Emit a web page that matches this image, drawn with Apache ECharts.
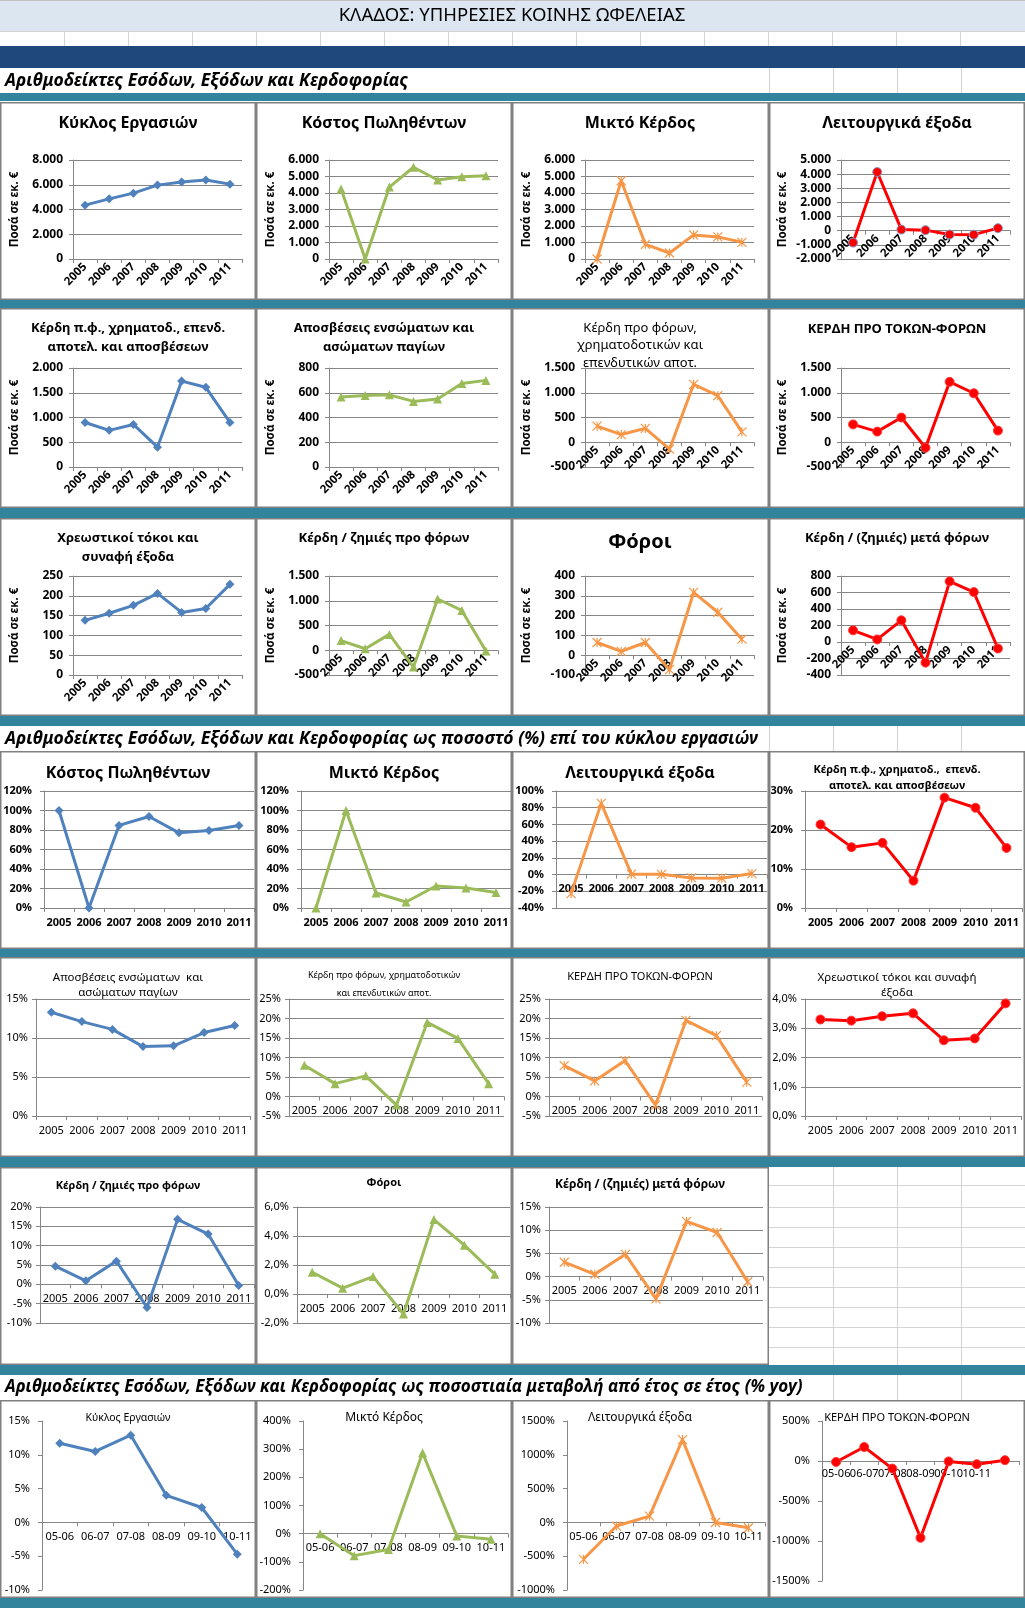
<!DOCTYPE html>
<html><head><meta charset="utf-8">
<script src="https://cdn.jsdelivr.net/npm/echarts@6/dist/echarts.min.js"></script>
<style>html,body{margin:0;padding:0;background:#fff}#c{width:1025px;height:1608px}</style>
</head><body><div id="c"></div><script>
// ---------------- DATA ----------------
const years = ['2005','2006','2007','2008','2009','2010','2011'];
const yoyCats = ['05-06','06-07','07-08','08-09','09-10','10-11'];
const yoyCatsEbit = ['05-06','06-07','07-08','08-09','09-10','10-11',''];

// Section 1: amounts (εκ. €)
const turnover = [4350,4860,5320,5970,6220,6380,6050];
const costOfSales = [4240,0,4360,5560,4790,4990,5050];
const grossProfit = [0,4740,890,365,1460,1340,1010];
const operatingExpenses = [-840,4150,80,40,-270,-280,180];
const ebitda = [900,740,860,400,1735,1610,900];
const depreciation = [565,577,583,530,550,675,700];
const ebitPreFin = [325,155,280,-140,1170,940,210];
const ebit = [360,215,500,-110,1220,990,235];
const interest = [138,156,176,206,158,168,229];
const preTax = [195,30,320,-340,1035,805,-15];
const taxes = [64,19,64,-73,317,217,81];
const afterTax = [141,31,263,-250,735,605,-79];

// Section 2: % of turnover
const pctCostOfSales = [100,0,84.7,93.9,77.1,79.5,84.7];
const pctGrossProfit = [0,100,15.4,6.2,22.6,20.6,15.8];
const pctOperatingExpenses = [-22.8,85.2,0.5,0.3,-4.0,-4.3,1.2];
const pctEbitda = [21.4,15.6,16.7,7.0,28.3,25.7,15.4];
const pctDepreciation = [13.3,12.1,11.1,8.9,9.0,10.7,11.6];
const pctEbitPreFin = [8.0,3.3,5.3,-2.2,19.0,14.9,3.3];
const pctEbit = [7.9,4.0,9.2,-2.2,19.5,15.6,3.7];
const pctInterest = [3.30,3.26,3.41,3.51,2.59,2.65,3.85];
const pctPreTax = [4.7,0.9,6.0,-6.0,16.8,13.0,-0.3];
const pctTaxes = [1.50,0.40,1.20,-1.38,5.13,3.37,1.36];
const pctAfterTax = [3.1,0.5,4.8,-4.8,11.9,9.5,-1.1];

// Section 3: % yoy
const yoyTurnover = [11.7,10.5,12.9,4.0,2.2,-4.7];
const yoyGrossProfit = [0,-78,-56,287,-8,-20];
const yoyOperatingExpenses = [-546,-54,93,1225,-2,-79];
const yoyEbit = [-12,175,-95,-960,-5,-40,10];

// ---------------- FORMATTERS ----------------
function fmtInt(v){ const a=Math.abs(Math.round(v)); const s=String(a).replace(/\B(?=(\d{3})+(?!\d))/g,'.'); return (v<0?'-':'')+s; }
function fmtPct0(v){ const r=Math.round(v); return (r===0?0:r)+'%'; }
function fmtPct1(v){ let r=Math.round(v*10)/10; if(r===0) r=0; return r.toFixed(1).replace('.',',')+'%'; }

// ---------------- STYLES ----------------
const FF = '"Noto Sans","DejaVu Sans",sans-serif';
const GC = '#868686';
const ASTER = 'path://M0,0L10,10M0,10L10,0M5,0L5,10';
const ST = {
  blue:{color:'#4F81BD', symbol:'diamond', size:9, border:'#4F81BD', bw:0},
  green:{color:'#9BBB59', symbol:'triangle', size:9, border:'#9BBB59', bw:0},
  orange:{color:'#F79646', symbol:ASTER, size:9, border:'#F79646', bw:1.2},
  red:{color:'#FF0000', symbol:'circle', size:9, border:'#FF3B3B', bw:1}
};
const KIND = {
  A:{yl:{s:12,w:'bold',m:10}, xl:{s:11.5,w:'bold',r:45,m:6}, split:true, yName:true},
  B:{yl:{s:11,w:'bold',m:12}, xl:{s:11,w:'bold',r:0,m:9}, split:true},
  C:{yl:{s:11,w:'normal',m:8}, xl:{s:11,w:'normal',r:0,m:9}, split:true},
  D:{yl:{s:11,w:'normal',m:12}, xl:{s:11,w:'normal',r:0,m:9}, split:false}
};
const CX = [128,384,640,897];

const charts = [
  // Section 1, row 1
  {k:'A', cx:CX[0], plot:[73,160,242,259], title:['Κύκλος Εργασιών'], ty:123, ts:16, tw:'bold', cats:years, data:turnover, st:'blue', y:[0,8000,2000], f:fmtInt},
  {k:'A', cx:CX[1], plot:[329,160,498,259], title:['Κόστος Πωληθέντων'], ty:123, ts:16, tw:'bold', cats:years, data:costOfSales, st:'green', y:[0,6000,1000], f:fmtInt},
  {k:'A', cx:CX[2], plot:[585,160,754,259], title:['Μικτό Κέρδος'], ty:123, ts:16, tw:'bold', cats:years, data:grossProfit, st:'orange', y:[0,6000,1000], f:fmtInt},
  {k:'A', cx:CX[3], plot:[841,160,1010,259], title:['Λειτουργικά έξοδα'], ty:123, ts:16, tw:'bold', cats:years, data:operatingExpenses, st:'red', y:[-2000,5000,1000], f:fmtInt, border:'#7F9FCF'},
  // row 2
  {k:'A', cx:CX[0], plot:[73,368,242,467], title:['Κέρδη π.φ., χρηματοδ., επενδ.','αποτελ. και αποσβέσεων'], ty:328, lh:19, ts:13, tw:'bold', cats:years, data:ebitda, st:'blue', y:[0,2000,500], f:fmtInt},
  {k:'A', cx:CX[1], plot:[329,368,498,467], title:['Αποσβέσεις ενσώματων και','ασώματων παγίων'], ty:328, lh:19, ts:13, tw:'bold', cats:years, data:depreciation, st:'green', y:[0,800,200], f:fmtInt},
  {k:'A', cx:CX[2], plot:[585,368,754,467], title:['Κέρδη προ φόρων,','χρηματοδοτικών και','επενδυτικών αποτ.'], ty:328, lh:17.5, ts:13, tw:'normal', cats:years, data:ebitPreFin, st:'orange', y:[-500,1500,500], f:fmtInt},
  {k:'A', cx:CX[3], plot:[841,368,1010,467], title:['ΚΕΡΔΗ ΠΡΟ ΤΟΚΩΝ-ΦΟΡΩΝ'], ty:329, ts:13, tw:'bold', cats:years, data:ebit, st:'red', y:[-500,1500,500], f:fmtInt},
  // row 3
  {k:'A', cx:CX[0], plot:[73,576,242,675], title:['Χρεωστικοί τόκοι και','συναφή έξοδα'], ty:538, lh:19, ts:13, tw:'bold', cats:years, data:interest, st:'blue', y:[0,250,50], f:fmtInt},
  {k:'A', cx:CX[1], plot:[329,576,498,675], title:['Κέρδη / ζημιές προ φόρων'], ty:538, ts:13, tw:'bold', cats:years, data:preTax, st:'green', y:[-500,1500,500], f:fmtInt},
  {k:'A', cx:CX[2], plot:[585,576,754,675], title:['Φόροι'], ty:542, ts:20, tw:'bold', cats:years, data:taxes, st:'orange', y:[-100,400,100], f:fmtInt},
  {k:'A', cx:CX[3], plot:[841,576,1010,675], title:['Κέρδη / (ζημιές) μετά φόρων'], ty:538, ts:13, tw:'bold', cats:years, data:afterTax, st:'red', y:[-400,800,200], f:fmtInt},
  // Section 2, row 1
  {k:'B', cx:CX[0], plot:[44,791,254,908], title:['Κόστος Πωληθέντων'], ty:773, ts:16, tw:'bold', cats:years, data:pctCostOfSales, st:'blue', y:[0,120,20], f:fmtPct0},
  {k:'B', cx:CX[1], plot:[301,791,511,908], title:['Μικτό Κέρδος'], ty:773, ts:16, tw:'bold', cats:years, data:pctGrossProfit, st:'green', y:[0,120,20], f:fmtPct0},
  {k:'B', cx:CX[2], plot:[556,791,767,908], title:['Λειτουργικά έξοδα'], ty:773, ts:16, tw:'bold', cats:years, data:pctOperatingExpenses, st:'orange', y:[-40,100,20], f:fmtPct0},
  {k:'B', cx:CX[3], plot:[805,791,1022,908], title:['Κέρδη π.φ., χρηματοδ.,  επενδ.','αποτελ. και αποσβέσεων'], ty:770, lh:16, ts:11, tw:'bold', cats:years, data:pctEbitda, st:'red', y:[0,30,10], f:fmtPct0},
  // row 2
  {k:'C', cx:CX[0], plot:[36,999,250,1116], title:['Αποσβέσεις ενσώματων  και','ασώματων παγίων'], ty:978, lh:15, ts:11.5, tw:'normal', cats:years, data:pctDepreciation, st:'blue', y:[0,15,5], f:fmtPct0},
  {k:'C', cx:CX[1], plot:[289,999,504,1116], title:['Κέρδη προ φόρων, χρηματοδοτικών','και επενδυτικών αποτ.'], ty:975, lh:18, ts:9, tw:'normal', cats:years, data:pctEbitPreFin, st:'green', y:[-5,25,5], f:fmtPct0},
  {k:'C', cx:CX[2], plot:[549,999,762,1116], title:['ΚΕΡΔΗ ΠΡΟ ΤΟΚΩΝ-ΦΟΡΩΝ'], ty:977, ts:11, tw:'normal', cats:years, data:pctEbit, st:'orange', y:[-5,25,5], f:fmtPct0},
  {k:'C', cx:CX[3], plot:[805,999,1021,1116], title:['Χρεωστικοί τόκοι και συναφή','έξοδα'], ty:978, lh:15, ts:11.5, tw:'normal', cats:years, data:pctInterest, st:'red', y:[0,4,1], f:fmtPct1},
  // row 3
  {k:'C', cx:CX[0], plot:[40,1207,254,1323], title:['Κέρδη / ζημιές προ φόρων'], ty:1186, ts:11, tw:'bold', cats:years, data:pctPreTax, st:'blue', y:[-10,20,5], f:fmtPct0},
  {k:'C', cx:CX[1], plot:[297,1207,510,1323], title:['Φόροι'], ty:1183, ts:11, tw:'bold', cats:years, data:pctTaxes, st:'green', y:[-2,6,2], f:fmtPct1},
  {k:'C', cx:CX[2], plot:[549,1207,763,1323], title:['Κέρδη / (ζημιές) μετά φόρων'], ty:1185, ts:12, tw:'bold', cats:years, data:pctAfterTax, st:'orange', y:[-10,15,5], f:fmtPct0},
  // Section 3
  {k:'D', cx:CX[0], plot:[42,1421,255,1590], title:['Κύκλος Εργασιών'], ty:1418, ts:10.5, tw:'normal', cats:yoyCats, data:yoyTurnover, st:'blue', y:[-10,15,5], f:fmtPct0},
  {k:'D', cx:CX[1], plot:[303,1421,508,1590], title:['Μικτό Κέρδος'], ty:1418, ts:12, tw:'normal', cats:yoyCats, data:yoyGrossProfit, st:'green', y:[-200,400,100], f:fmtPct0},
  {k:'D', cx:CX[2], plot:[567,1421,765,1590], title:['Λειτουργικά έξοδα'], ty:1418, ts:12, tw:'normal', cats:yoyCats, data:yoyOperatingExpenses, st:'orange', y:[-1000,1500,500], f:fmtPct0},
  {k:'D', cx:CX[3], plot:[822,1421,1019,1581], title:['ΚΕΡΔΗ ΠΡΟ ΤΟΚΩΝ-ΦΟΡΩΝ'], ty:1418, ts:11, tw:'normal', cats:yoyCatsEbit, data:yoyEbit, st:'red', y:[-1500,500,500], f:fmtPct0, xm:7}
];

// ---------------- BACKGROUND / LAYOUT GRAPHICS ----------------
const bg = [];
function rect(x,y,w,h,fill,z){ bg.push({type:'rect', silent:true, z:z||0, shape:{x:x,y:y,width:w,height:h}, style:{fill:fill}}); }
function srect(x,y,w,h,stroke,lw,z){ bg.push({type:'rect', silent:true, z:z||0, shape:{x:x,y:y,width:w,height:h}, style:{fill:'none', stroke:stroke, lineWidth:lw}}); }
function line(x1,y1,x2,y2,stroke,lw){ bg.push({type:'line', silent:true, z:0, shape:{x1:x1,y1:y1,x2:x2,y2:y2}, style:{stroke:stroke, lineWidth:lw||1}}); }
function text(t,x,y,opt){ bg.push({type:'text', silent:true, z:5, x:x, y:y, style:Object.assign({text:t, fill:'#000', fontFamily:FF, verticalAlign:'middle', align:'left'}, opt)}); }

const CELL = '#D4D4D4';
// title band
rect(0,0,1025,31,'#DCE6F1');
line(0,0.5,1025,0.5,'#C0C0C0',1);
text('ΚΛΑΔΟΣ: ΥΠΗΡΕΣΙΕΣ ΚΟΙΝΗΣ ΩΦΕΛΕΙΑΣ', 512, 16, {fontSize:18.5, fontWeight:'normal', align:'center'});
// cell row under the title
for(let k=1;k<16;k++) line(64*k+0.5,31,64*k+0.5,46,CELL,1);
line(0,31.5,1025,31.5,CELL,1);
// dark blue band
rect(0,46,1025,22,'#1F497D');
// section title rows
[[68,93],[726,751]].forEach(r=>{ [769,833,897,961].forEach(x=>line(x+0.5,r[0],x+0.5,r[1],CELL,1)); });
[833,897,961].forEach(x=>line(x+0.5,1375,x+0.5,1400,CELL,1));
text('Αριθμοδείκτες Εσόδων, Εξόδων και Κερδοφορίας', 5, 81, {fontSize:17.5, fontWeight:'bold', fontStyle:'italic'});
text('Αριθμοδείκτες Εσόδων, Εξόδων και Κερδοφορίας ως ποσοστό (%) επί του κύκλου εργασιών', 5, 739, {fontSize:17.5, fontWeight:'bold', fontStyle:'italic'});
text('Αριθμοδείκτες Εσόδων, Εξόδων και Κερδοφορίας ως ποσοστιαία μεταβολή από έτος σε έτος (% yoy)', 5, 1387, {fontSize:17, fontWeight:'bold', fontStyle:'italic'});
// teal separators
[[93,8],[300,8],[508,10],[716,10],[949,8],[1157,10],[1365,10],[1598,10]].forEach(t=>rect(0,t[0],1025,t[1],'#31849B'));
// empty cells in last chart row
[1185,1207,1227,1247,1267,1287,1307,1327,1347].forEach(y=>line(769,y+0.5,1025,y+0.5,CELL,1));
[833,897,961].forEach(x=>line(x+0.5,1167,x+0.5,1365,CELL,1));
// chart boxes
const COLX = [[0,256],[256,512],[512,769],[769,1025]];
const ROWS = [[102,300,4],[308,508,4],[518,716,4],[751,949,4],[957,1157,4],[1167,1365,3],[1400,1598,4]];
ROWS.forEach(r=>{ for(let c=0;c<r[2];c++){ const cx=COLX[c]; srect(cx[0]+0.75, r[0]+0.75, cx[1]-cx[0]-1.5, r[1]-r[0]-1.5, '#808080', 1.5, 6); } });

// ---------------- CHARTS ----------------
const option = {animation:false, backgroundColor:'#ffffff', title:[], grid:[], xAxis:[], yAxis:[], series:[], graphic:{elements:bg}};
charts.forEach((c,i)=>{
  const K = KIND[c.k], s = ST[c.st];
  const lh = c.lh || Math.round(c.ts*1.3);
  const h = c.plot[3]-c.plot[1];
  // category axis crosses the value axis at zero (as in the original)
  const crossOffset = c.y[0] < 0 ? -h * (0 - c.y[0]) / (c.y[1] - c.y[0]) : 0;
  option.title.push({text:c.title.join('\n'), left:c.cx, top:c.ty - lh/2, textAlign:'center', textVerticalAlign:'top', padding:0, itemGap:0,
    textStyle:{fontFamily:FF, fontSize:c.ts, fontWeight:c.tw, color:'#000', lineHeight:lh}});
  option.grid.push({left:c.plot[0], top:c.plot[1], width:c.plot[2]-c.plot[0], height:h, containLabel:false, outerBoundsMode:'none', show:false});
  option.xAxis.push({gridIndex:i, type:'category', data:c.cats, boundaryGap:true, position:'bottom', offset:crossOffset,
    axisLine:{show:true, onZero:false, lineStyle:{color:GC, width:1}},
    axisTick:{show:true, length:4, alignWithLabel:false, interval:0, lineStyle:{color:GC, width:1}},
    axisLabel:{interval:0, rotate:K.xl.r, margin:(c.xm||K.xl.m), fontFamily:FF, fontSize:K.xl.s, fontWeight:K.xl.w, color:'#000', hideOverlap:false},
    splitLine:{show:false}});
  const ya = {gridIndex:i, type:'value', min:c.y[0], max:c.y[1], interval:c.y[2],
    axisLine:{show:true, onZero:false, lineStyle:{color:GC, width:1}},
    axisTick:{show:true, length:4, lineStyle:{color:GC, width:1}},
    axisLabel:{formatter:c.f, margin:K.yl.m, fontFamily:FF, fontSize:K.yl.s, fontWeight:K.yl.w, color:'#000', showMinLabel:true, showMaxLabel:true, hideOverlap:false},
    splitLine:{show:K.split, lineStyle:{color:GC, width:1}}};
  if(K.yName){
    Object.assign(ya,{name:'Ποσά σε εκ. €', nameLocation:'middle', nameRotate:90, nameGap:52, nameMoveOverlap:false,
      nameTextStyle:{fontFamily:FF, fontSize:11.5, fontWeight:'bold', color:'#000'}});
  }
  option.yAxis.push(ya);
  option.series.push({type:'line', name:c.title.join(' '), xAxisIndex:i, yAxisIndex:i, data:c.data, clip:false,
    symbol:s.symbol, symbolSize:s.size, symbolKeepAspect:true, showSymbol:true, z:3,
    lineStyle:{color:s.color, width:3}, itemStyle:{color:s.color, borderColor:(c.border||s.border), borderWidth:s.bw},
    emphasis:{disabled:true}});
});
const chart = echarts.init(document.getElementById('c'), null, {renderer:'canvas'});
chart.setOption(option);
</script></body></html>
